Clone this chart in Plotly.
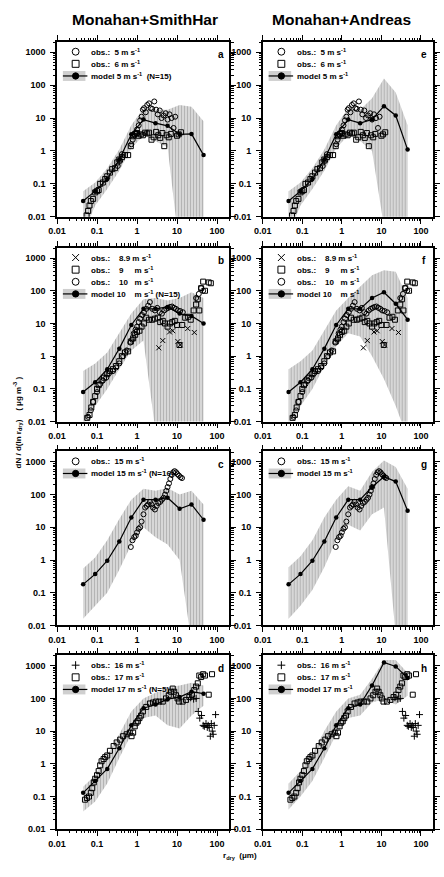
import plotly.graph_objects as go

W, H = 444, 877

# ---------------- data ----------------
MODEL_R = [0.045, 0.09, 0.18, 0.36, 0.72, 1.45, 2.9, 5.8, 11.6, 23, 46]

# Row 1 : 5 / 6 m s-1
OBS5_R = [0.33, 0.38, 0.42, 0.72, 0.78, 0.85, 0.92, 1.0, 1.1, 1.2, 1.3, 1.4, 1.5, 1.65, 1.8, 2.0,
          2.2, 2.4, 2.7, 3.0, 3.3, 3.7, 4.1, 4.6, 5.2, 5.8, 6.5, 7.3, 8.2, 9.0]
OBS5_Y = [0.35, 0.5, 0.8, 1.6, 2.2, 3.0, 3.5, 4.5, 6.0, 8.5, 11, 18, 20, 15, 25, 28,
          20, 19, 32, 18, 13, 17, 10, 12, 14, 9, 13, 10, 5, 11]
OBS6_R = [0.055, 0.06, 0.065, 0.07, 0.08, 0.09, 0.1, 0.11, 0.12, 0.14, 0.16, 0.18, 0.21, 0.24,
          0.28, 0.32, 0.36, 0.42, 0.5, 0.6, 0.7, 0.8, 0.9, 1.0, 1.1, 1.25, 1.4, 1.6, 1.8, 2.0,
          2.3, 2.6, 3.0, 3.4, 3.8, 4.3, 4.8, 5.5, 6.2, 7.0, 10.0, 11.0, 12.5]
OBS6_Y = [0.011, 0.015, 0.022, 0.03, 0.035, 0.055, 0.06, 0.065, 0.1, 0.11, 0.14, 0.17, 0.22, 0.28,
          0.3, 0.45, 0.55, 0.65, 0.75, 0.75, 1.4, 2.8, 3.3, 3.5, 2.9, 3.2, 3.0, 3.6, 3.4, 3.6,
          2.2, 2.6, 3.8, 3.0, 2.5, 3.5, 1.4, 3.0, 2.6, 3.3, 2.9, 3.2, 3.7]
MOD_A = [0.03, 0.06, 0.14, 0.55, 3.2, 9.0, 7.0, 5.8, 3.2, 3.3, 0.75]
LOW_A = [0.003, 0.022, 0.07, 0.25, 1.2, 3.0, 2.0, 1.3, 0.001, 0.001, 0.001]
UP_A = [0.06, 0.11, 0.3, 1.1, 6, 20, 18, 18, 25, 22, 8]
MOD_E = [0.03, 0.06, 0.14, 0.55, 3.2, 9.0, 7.0, 9.0, 23, 12, 1.1]
LOW_E = [0.003, 0.022, 0.07, 0.25, 1.2, 3.0, 2.0, 1.0, 0.005, 0.001, 0.001]
UP_E = [0.06, 0.11, 0.3, 1.1, 6, 20, 18, 40, 160, 60, 6]

# Row 2 : 8.9 / 9 / 10 m s-1
OBS89_R = [3.5, 4.4, 6.5, 7.8, 10.5, 12.0, 18.5, 27]
OBS89_Y = [1.8, 3.0, 5.5, 6.0, 2.8, 2.2, 7.0, 5.3]
OBS9_R = [0.057, 0.065, 0.072, 0.08, 0.09, 0.1, 0.11, 0.13, 0.15, 0.18, 0.21, 0.25, 0.3, 0.36,
          0.42, 0.5, 0.6, 0.7, 0.8, 0.9, 1.0, 1.15, 1.3, 1.5, 1.7, 2.0, 2.4, 2.8, 3.3, 3.8, 4.4,
          5.0, 5.8, 6.6, 7.6, 8.8, 10.0, 11.5, 13.5, 16, 19, 22, 26, 30, 33, 36, 40, 45, 50, 62, 70]
OBS9_Y = [0.013, 0.016, 0.027, 0.04, 0.06, 0.1, 0.13, 0.18, 0.22, 0.28, 0.35, 0.4, 0.5, 0.7,
          1.0, 1.3, 1.4, 2.8, 3.5, 4.5, 5.5, 6, 8, 10, 15, 13, 13, 14, 15, 11, 12,
          10, 8, 10, 11, 12, 9, 2.2, 9, 15, 16, 13, 25, 38, 55, 25, 120, 190, 100, 180, 170]
OBS10_R = [0.06, 0.07, 0.08, 0.1, 0.12, 0.14, 0.17, 0.2, 0.25, 0.3, 0.36, 0.45, 0.55, 0.68, 0.75,
           0.83, 0.92, 1.0, 1.1, 1.2, 1.35, 1.5, 1.7, 1.9, 2.1, 2.4, 2.8, 3.2, 3.7, 4.2, 4.8, 5.4,
           6.0, 6.7, 7.5, 8.4, 9.4, 10.5, 12, 14, 30, 35, 40, 45]
OBS10_Y = [0.014, 0.022, 0.04, 0.08, 0.14, 0.18, 0.22, 0.3, 0.35, 0.45, 0.6, 1.0, 1.5, 2.6, 3.2,
           5, 6.5, 8, 11, 14, 18, 22, 28, 35, 45, 28, 25, 30, 22, 20, 25, 28,
           30, 32, 33, 30, 28, 25, 24, 22, 60, 80, 120, 100]
MOD_B = [0.08, 0.16, 0.4, 1.7, 9, 28, 28, 32, 20, 17, 10]
LOW_B = [0.008, 0.03, 0.1, 0.4, 1.5, 3.0, 0.005, 0.005, 0.005, 0.005, 0.005]
UP_B = [0.35, 0.6, 1.3, 5, 20, 55, 60, 50, 60, 90, 60]
MOD_F = [0.08, 0.16, 0.4, 1.7, 9, 28, 28, 60, 90, 40, 13]
LOW_F = [0.008, 0.03, 0.1, 0.5, 2, 5, 4, 1, 0.2, 0.03, 0.003]
UP_F = [0.4, 0.7, 1.5, 6, 25, 60, 130, 300, 420, 380, 60]

# Row 3 : 15 m s-1
OBS15_R = [0.7, 0.77, 0.85, 0.93, 1.0, 1.1, 1.2, 1.3, 1.45, 1.6, 1.75, 1.9, 2.1, 2.3, 2.5, 2.8,
           3.1, 3.4, 3.8, 4.2, 4.6, 5.0, 5.4, 5.8, 6.3, 6.8, 7.4, 8.0, 8.7, 9.5, 10.3, 11.2,
           12.2, 13.3]
OBS15_Y = [2.5, 4, 5, 5.5, 7, 9, 10, 15, 25, 40, 45, 50, 60, 50, 40, 35,
           45, 55, 60, 70, 80, 100, 130, 170, 220, 300, 400, 480, 520, 480, 420, 380,
           340, 320]
MOD_C = [0.18, 0.37, 0.95, 3.7, 20, 70, 70, 80, 37, 50, 17]
LOW_C = [0.016, 0.04, 0.1, 0.5, 3, 10, 5, 3, 1, 0.003, 0.003]
UP_C = [0.55, 1.2, 4, 18, 70, 150, 130, 160, 100, 130, 50]
MOD_G = [0.18, 0.37, 0.95, 3.7, 20, 70, 70, 170, 350, 250, 32]
LOW_G = [0.016, 0.04, 0.12, 0.6, 4, 12, 8, 25, 40, 0.005, 0.003]
UP_G = [0.6, 1.3, 4, 20, 70, 180, 130, 500, 1100, 700, 150]

# Row 4 : 16 / 17 m s-1
OBS16_R = [22, 26, 30, 34, 37, 41, 45, 48, 53, 57, 60, 64, 68, 72, 76, 80, 85, 92]
OBS16_Y = [105, 95, 100, 40, 25, 30, 15, 14, 17, 13, 15, 13, 7, 17, 10, 8, 15, 32]
OBS17_R = [0.05, 0.056, 0.063, 0.07, 0.076, 0.083, 0.09, 0.1, 0.11, 0.12, 0.13, 0.146, 0.16,
           0.18, 0.21, 0.26, 0.31, 0.38, 0.45, 0.55, 0.66, 0.73, 0.8, 0.88, 0.96, 1.05, 1.15,
           1.27, 1.4, 1.7, 2.1, 2.5, 3.0, 3.6, 4.4, 5.3, 6.2, 7.1, 7.8, 8.5, 9.4, 10.3, 11.3,
           13.8, 16.8, 20.3, 23.6, 27, 30, 33, 36, 40, 45, 50, 62, 75]
OBS17_Y = [0.08, 0.09, 0.1, 0.13, 0.18, 0.27, 0.35, 0.45, 0.6, 0.9, 1.2, 1.4, 1.6,
           1.8, 2.5, 3.5, 4.5, 5.5, 7, 8, 9, 7, 9, 14, 18, 20, 25,
           30, 40, 55, 70, 75, 80, 80, 80, 100, 125, 160, 200, 160, 125, 100, 80,
           80, 90, 110, 130, 180, 230, 290, 500, 450, 550, 500, 130, 550]
MOD_D = [0.13, 0.3, 0.7, 3.0, 15, 50, 65, 95, 110, 160, 140]
LOW_D = [0.035, 0.07, 0.25, 1.5, 8, 25, 30, 15, 12, 30, 60]
UP_D = [0.2, 0.45, 1.8, 8, 40, 100, 150, 220, 250, 300, 250]
MOD_H = [0.13, 0.3, 0.7, 3.0, 15, 50, 65, 250, 1250, 950, 420]
LOW_H = [0.04, 0.1, 0.3, 1.5, 8, 25, 30, 75, 95, 65, 120]
UP_H = [0.25, 0.6, 2, 10, 40, 100, 130, 400, 1500, 1500, 600]

COL_TITLES = ["Monahan+SmithHar", "Monahan+Andreas"]
TICK_VALS = [0.01, 0.1, 1, 10, 100, 1000]
TICK_TEXT = ["0.01", "0.1", "1", "10", "100", "1000"]

# ---------------- layout geometry (pixels) ----------------
COLS = [(49, 225), (259, 433)]
ROWS = [(42, 218), (249, 424), (454, 629), (659, 834)]

FONT = "Liberation Sans, Arial, sans-serif"
fig = go.Figure()

def px(x):
    return x / W

def py(y):
    return 1 - y / H

axis_common = dict(
    type="log", showline=True, linecolor="black", linewidth=1.5, mirror="allticks",
    ticks="outside", ticklen=5, tickwidth=1.2, tickcolor="black", showgrid=False,
    zeroline=False, tickfont=dict(family=FONT, size=9, color="black", weight="bold"),
    minor=dict(ticks="outside", ticklen=2.5, tickwidth=0.8, tickcolor="black",
               dtick="D1", showgrid=False),
    tickvals=TICK_VALS, ticktext=TICK_TEXT,
)

obs_rows = [
    [("circle-open", OBS5_R, OBS5_Y), ("square-open", OBS6_R, OBS6_Y)],
    [("x-thin-open", OBS89_R, OBS89_Y), ("square-open", OBS9_R, OBS9_Y), ("circle-open", OBS10_R, OBS10_Y)],
    [("circle-open", OBS15_R, OBS15_Y)],
    [("cross-thin-open", OBS16_R, OBS16_Y), ("square-open", OBS17_R, OBS17_Y)],
]
models = [[(MOD_A, LOW_A, UP_A), (MOD_E, LOW_E, UP_E)],
          [(MOD_B, LOW_B, UP_B), (MOD_F, LOW_F, UP_F)],
          [(MOD_C, LOW_C, UP_C), (MOD_G, LOW_G, UP_G)],
          [(MOD_D, LOW_D, UP_D), (MOD_H, LOW_H, UP_H)]]
letters = [["a", "e"], ["b", "f"], ["c", "g"], ["d", "h"]]

layout_axes = {}
k = 0
for r in range(4):
    for c in range(2):
        k += 1
        xa = "x" if k == 1 else f"x{k}"
        ya = "y" if k == 1 else f"y{k}"
        x0, x1 = COLS[c]
        y0, y1 = ROWS[r]
        layout_axes["xaxis" if k == 1 else f"xaxis{k}"] = dict(
            axis_common, domain=[px(x0), px(x1)], range=[-2, 2.31], anchor=ya)
        layout_axes["yaxis" if k == 1 else f"yaxis{k}"] = dict(
            axis_common, domain=[py(y1), py(y0)], range=[-2, 3.32], anchor=xa,
            ticklabelstandoff=3)
        mod, low, up = models[r][c]
        # shaded band (model spread)
        fig.add_trace(go.Scatter(
            x=MODEL_R + MODEL_R[::-1], y=up + low[::-1], xaxis=xa, yaxis=ya,
            mode="lines", line=dict(width=0), fill="toself", fillcolor="#d8d8d8",
            fillpattern=dict(shape="|", size=3, solidity=0.45, fgcolor="#8a8a8a",
                             bgcolor="#dedede"),
            hoverinfo="skip", showlegend=False))
        # observations
        for sym, ox, oy in obs_rows[r]:
            fig.add_trace(go.Scatter(
                x=ox, y=oy, xaxis=xa, yaxis=ya, mode="markers",
                marker=dict(symbol=sym, size=5, color="black",
                            line=dict(width=1, color="black")),
                showlegend=False))
        # model
        fig.add_trace(go.Scatter(
            x=MODEL_R, y=mod, xaxis=xa, yaxis=ya, mode="lines+markers",
            line=dict(color="black", width=1.2),
            marker=dict(symbol="circle", size=4.5, color="black"),
            showlegend=False))

fig.update_layout(**layout_axes)

annotations = []
shapes = []

def text(x, y, s, size=8, xanchor="left", family=FONT):
    annotations.append(dict(x=px(x), y=py(y), xref="paper", yref="paper", text=s,
                            showarrow=False, xanchor=xanchor, yanchor="middle",
                            font=dict(family=family, size=size, color="black", weight="bold")))

def sym_circle(cx, cy, r=3.5):
    shapes.append(dict(type="circle", xref="paper", yref="paper", x0=px(cx - r), x1=px(cx + r),
                       y0=py(cy + r), y1=py(cy - r), line=dict(color="black", width=1)))

def sym_square(cx, cy, r=3.5):
    shapes.append(dict(type="rect", xref="paper", yref="paper", x0=px(cx - r), x1=px(cx + r),
                       y0=py(cy + r), y1=py(cy - r), line=dict(color="black", width=1)))

def seg(xa_, ya_, xb, yb, w=1):
    shapes.append(dict(type="line", xref="paper", yref="paper", x0=px(xa_), y0=py(ya_),
                       x1=px(xb), y1=py(yb), line=dict(color="black", width=w)))

def sym_x(cx, cy, r=3.5):
    seg(cx - r, cy - r, cx + r, cy + r)
    seg(cx - r, cy + r, cx + r, cy - r)

def sym_plus(cx, cy, r=4):
    seg(cx - r, cy, cx + r, cy)
    seg(cx, cy - r, cx, cy + r)

def sym_model(cx, cy):
    shapes.append(dict(type="rect", xref="paper", yref="paper", x0=px(cx - 13), x1=px(cx + 10),
                       y0=py(cy + 5), y1=py(cy - 5), line=dict(width=0), fillcolor="#cfcfcf"))
    seg(cx - 13, cy, cx + 12, cy, 1.2)
    shapes.append(dict(type="circle", xref="paper", yref="paper", x0=px(cx - 3.2), x1=px(cx + 3.2),
                       y0=py(cy + 3.2), y1=py(cy - 3.2), fillcolor="black",
                       line=dict(color="black", width=1)))

SUP = "m s<sup>-1</sup>"
legend_rows = [
    [("circle", "obs.:  5 " + SUP), ("square", "obs.:  6 " + SUP), ("model", "model 5 " + SUP)],
    [("x", "obs.:    8.9 " + SUP), ("square", "obs.:    9     " + SUP),
     ("circle", "obs.:    10   " + SUP), ("model", "model 10    " + SUP)],
    [("circle", "obs.:  15 " + SUP), ("model", "model 15 " + SUP)],
    [("plus", "obs.:  16 " + SUP), ("square", "obs.:  17 " + SUP), ("model", "model 17 " + SUP)],
]
n_text = ["  (N=15)", " (N=15)", " (N=16)", " (N=5)"]

for r in range(4):
    for c in range(2):
        x0, x1 = COLS[c]
        y0, y1 = ROWS[r]
        rows_ = legend_rows[r]
        for i, (kind, label) in enumerate(rows_):
            cy = y0 + 10 + 12.2 * i
            cx = x0 + 19
            if kind == "circle":
                sym_circle(cx, cy)
            elif kind == "square":
                sym_square(cx, cy)
            elif kind == "x":
                sym_x(cx, cy)
            elif kind == "plus":
                sym_plus(cx, cy)
            else:
                sym_model(cx, cy)
            if kind == "model" and c == 0:
                label = label + n_text[r]
            text(x0 + 33, cy, label.replace(" ", "\u00a0"), size=8)
        text(x1 - 9, y0 + 13, letters[r][c], size=10, xanchor="center")

# column titles
text(139, 20, COL_TITLES[0], size=15.5, xanchor="center")
text(339, 20, COL_TITLES[1], size=15.5, xanchor="center")

# axis titles
annotations.append(dict(x=px(9), y=py(425), xref="paper", yref="paper",
                        text="dN / d(ln r<sub>dry</sub>)\u00a0\u00a0\u00a0\u00a0(\u00a0μg m<sup>-3</sup>\u00a0)",
                        showarrow=False, textangle=-90, xanchor="center", yanchor="middle",
                        font=dict(family=FONT, size=8, color="black", weight="bold")))
text(236, 861, "r<sub>dry</sub>\u00a0\u00a0(μm)", size=8, xanchor="center")

fig.update_layout(
    width=W, height=H, margin=dict(l=0, r=0, t=0, b=0),
    paper_bgcolor="white", plot_bgcolor="white", showlegend=False,
    annotations=annotations, shapes=shapes,
)

fig.write_html("out.html")
